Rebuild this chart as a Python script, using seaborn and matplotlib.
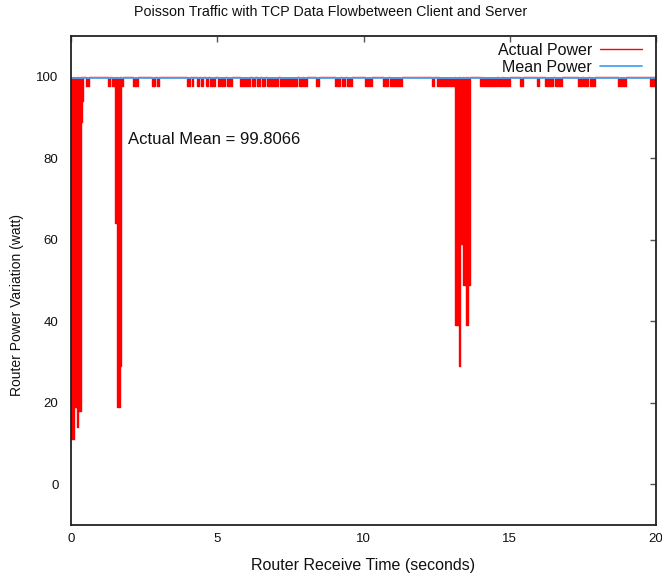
import matplotlib
matplotlib.use("Agg")
import matplotlib.pyplot as plt
import seaborn as sns
import pandas as pd

# Router power trace, described as intervals (seconds) where the power drops
# below the 100 W ceiling, with the lowest level reached in each interval.
seg_start = [0.01, 0.10, 0.22, 0.25, 0.33, 0.37, 0.50,
             1.28, 1.39, 1.50, 1.58, 1.67, 1.70,
             2.12, 2.77, 2.94,
             3.97, 4.14, 4.31, 4.44, 4.62, 4.75, 5.03, 5.33,
             5.78, 6.19, 6.36, 6.53, 6.70, 7.15, 7.79, 7.93,
             8.38, 9.03, 9.26, 9.44, 10.05, 10.67, 10.91,
             12.33, 12.50, 12.59, 13.13, 13.26, 13.30, 13.39, 13.50, 13.57,
             13.98, 14.10, 14.60, 14.77, 15.35, 15.92, 16.20, 16.55,
             17.34, 17.52, 17.74, 18.71, 19.80]
seg_end = [0.10, 0.22, 0.25, 0.33, 0.37, 0.41, 0.62,
           1.33, 1.50, 1.58, 1.67, 1.70, 1.78,
           2.29, 2.87, 3.01,
           4.07, 4.17, 4.38, 4.51, 4.68, 4.92, 5.26, 5.50,
           6.12, 6.29, 6.46, 6.63, 7.08, 7.73, 7.90, 8.07,
           8.48, 9.20, 9.37, 9.61, 10.29, 10.84, 11.32,
           12.41, 12.56, 13.13, 13.26, 13.30, 13.39, 13.50, 13.57, 13.64,
           14.04, 14.55, 14.72, 15.00, 15.46, 16.01, 16.49, 16.78,
           17.46, 17.69, 17.91, 18.98, 19.97]
seg_level = [11, 19, 14, 18, 89, 94, 97.8,
             97.8, 97.8, 64, 19, 29, 97.8,
             97.8, 97.8, 97.8,
             97.8, 97.8, 97.8, 97.8, 97.8, 97.8, 97.8, 97.8,
             97.8, 97.8, 97.8, 97.8, 97.8, 97.8, 97.8, 97.8,
             97.8, 97.8, 97.8, 97.8, 97.8, 97.8, 97.8,
             97.8, 97.8, 97.8, 39, 29, 59, 49, 39, 49,
             97.8, 97.8, 97.8, 97.8, 97.8, 97.8, 97.8, 97.8,
             97.8, 97.8, 97.8, 97.8, 97.8]

peak_power = 100.0
mean_power = 99.8066
time_range = [0, 20]

x_ticks = [0, 5, 10, 15, 20]
y_ticks = [0, 20, 40, 60, 80, 100]

# Expand the intervals into a vertex path of the power trace
tx, ty = [time_range[0]], [peak_power]
for s, e, lv in zip(seg_start, seg_end, seg_level):
    tx += [s, s, e, e]
    ty += [peak_power, lv, lv, peak_power]
tx.append(time_range[1])
ty.append(peak_power)
trace = pd.DataFrame({"t": tx, "p": ty})
mean_df = pd.DataFrame({"t": time_range, "p": [mean_power, mean_power]})

sns.set_theme(style="white")
plt.rcParams["font.family"] = ["Liberation Sans", "DejaVu Sans"]

fig = plt.figure(figsize=(6.62, 5.73), dpi=100)
ax = fig.add_axes([71 / 662, 1 - 525 / 573, 585 / 662, 489 / 573])

red = "#ff0000"
blue = "#4aa3f0"
ink = "#111111"

sns.lineplot(data=trace, x="t", y="p", sort=False, estimator=None,
             color=red, linewidth=1.0, ax=ax, label="Actual Power")
ax.fill_between(trace["t"], trace["p"], peak_power, color=red, linewidth=0)
sns.lineplot(data=mean_df, x="t", y="p", color=blue, linewidth=1.3,
             ax=ax, label="Mean Power")

ax.set_xlim(0, 20)
ax.set_ylim(-10, 110)
ax.set_xticks(x_ticks)
ax.set_yticks(y_ticks)
ax.tick_params(direction="in", length=4, width=1, color="#555555",
               top=True, right=True, labelsize=9.5, labelcolor=ink)
ax.tick_params(axis="y", pad=9)
ax.tick_params(axis="x", pad=6)
for sp in ax.spines.values():
    sp.set_color("#222222")
    sp.set_linewidth(1.3)

ax.set_xlabel("Router Receive Time (seconds)", fontsize=11.5, labelpad=9,
              color=ink)
ax.set_ylabel("Router Power Variation (watt)", fontsize=10, labelpad=8,
              color=ink)
ax.yaxis.set_label_coords(-0.080, 0.45)
fig.text(331 / 662, 1 - 12 / 573,
         "Poisson Traffic with TCP Data Flowbetween Client and Server",
         fontsize=10.3, ha="center", va="center", color=ink)

ax.text(1.95, 84.6, f"Actual Mean = {mean_power}", fontsize=12,
        va="center", ha="left", color=ink)

leg = ax.legend(loc="upper right", bbox_to_anchor=(1.0, 1.015),
                frameon=False, markerfirst=False, fontsize=11.5,
                handlelength=2.6, handletextpad=0.5, labelspacing=0.12)
for t in leg.get_texts():
    t.set_color(ink)

fig.savefig("out.png", dpi=100)
